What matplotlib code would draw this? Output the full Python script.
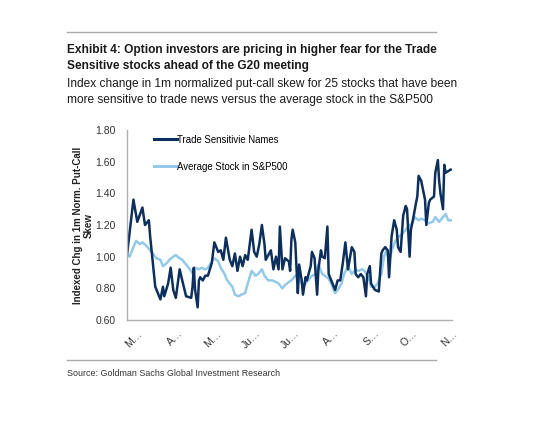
import matplotlib
matplotlib.use("Agg")
import matplotlib.pyplot as plt
from matplotlib.lines import Line2D
import numpy as np
import datetime as dt

# ---- data (day offsets from 2018-02-21) ----
trade_days = [0, 5, 8, 12, 14, 17, 18, 22, 23, 26, 28, 29, 32, 34, 36, 38, 41, 43, 46, 50,
              51, 52, 53, 55, 56, 57, 59, 61, 63, 66, 68, 71, 73, 75, 77, 80, 82, 84, 86, 88,
              90, 92, 94, 97, 99, 101, 103, 105, 107, 108, 112, 114, 116, 118, 119, 121, 123, 126, 127, 128,
              129, 131, 132, 133, 134, 136, 137, 139, 140, 143, 144, 146, 148, 149, 151, 152, 154, 156, 157, 159,
              161, 162, 164, 166, 168, 170, 172, 175, 177, 178, 180, 182, 184, 186, 187, 189, 190, 193, 196, 198,
              199, 201, 203, 204, 206, 208, 210, 211, 213, 215, 217, 218, 220, 221, 223, 225, 226, 227, 229, 230,
              232, 233, 235, 236, 239, 240, 242, 243, 244, 246, 247, 248, 250, 252]
trade_vals = [1.01, 1.36, 1.22, 1.31, 1.20, 1.23, 1.13, 0.81, 0.79, 0.73, 0.81, 0.75, 0.83, 0.93, 0.79, 0.74, 0.92, 0.85, 0.75, 0.74,
              0.81, 0.93, 0.79, 0.68, 0.85, 0.87, 0.85, 0.88, 0.88, 0.96, 1.09, 1.03, 1.04, 0.98, 1.12, 0.98, 0.94, 1.02, 0.91, 1.00,
              0.94, 1.01, 0.98, 1.17, 1.03, 1.00, 1.08, 1.20, 1.08, 0.98, 1.04, 0.92, 1.00, 0.92, 1.19, 0.92, 0.99, 0.97, 0.91, 1.11,
              1.17, 1.09, 0.92, 0.77, 0.95, 0.85, 0.76, 0.87, 0.85, 0.94, 1.03, 0.99, 0.76, 0.92, 1.04, 1.00, 0.99, 1.19, 0.89, 0.85,
              0.81, 0.79, 0.85, 0.85, 0.96, 1.09, 0.92, 1.06, 1.03, 0.89, 0.87, 0.89, 0.87, 0.75, 0.89, 0.94, 0.83, 0.79, 0.78, 1.02,
              1.04, 1.06, 1.04, 0.87, 1.13, 1.23, 1.17, 1.06, 1.03, 1.26, 1.32, 1.30, 1.00, 1.17, 1.25, 1.34, 1.38, 1.51, 1.48, 1.44,
              1.36, 1.20, 1.34, 1.36, 1.38, 1.53, 1.61, 1.48, 1.40, 1.30, 1.58, 1.53, 1.54, 1.55]

avg_days = [0, 2, 5, 7, 10, 12, 15, 18, 21, 23, 26, 28, 31, 33, 36, 38, 41, 43, 46, 49,
            52, 53, 56, 58, 61, 63, 66, 68, 71, 73, 76, 78, 82, 84, 87, 89, 92, 94, 97, 100,
            102, 105, 107, 110, 113, 116, 118, 121, 123, 126, 128, 131, 133, 136, 138, 141, 144, 147, 149, 152,
            154, 157, 159, 162, 164, 167, 169, 172, 175, 178, 180, 183, 185, 188, 190, 193, 195, 198, 200, 202,
            204, 207, 209, 212, 214, 217, 219, 222, 224, 227, 229, 232, 234, 238, 240, 243, 245, 248, 250, 252]
avg_vals = [1.01, 1.00, 1.06, 1.10, 1.08, 1.09, 1.07, 1.04, 1.01, 0.99, 0.98, 0.94, 0.96, 0.98, 1.00, 1.01, 0.99, 0.98, 0.95, 0.92,
            0.88, 0.93, 0.92, 0.93, 0.92, 0.93, 0.97, 0.99, 0.97, 0.93, 0.89, 0.85, 0.81, 0.76, 0.75, 0.76, 0.77, 0.83, 0.91, 0.88,
            0.89, 0.92, 0.88, 0.85, 0.85, 0.84, 0.83, 0.80, 0.82, 0.84, 0.85, 0.88, 0.87, 0.83, 0.82, 0.85, 0.88, 0.89, 0.95, 0.89,
            0.88, 0.86, 0.83, 0.77, 0.79, 0.83, 0.89, 0.94, 0.89, 0.92, 0.91, 0.92, 0.91, 0.87, 0.81, 0.81, 0.83, 0.89, 1.00, 1.04,
            0.98, 1.06, 1.10, 1.13, 1.14, 1.17, 1.19, 1.21, 1.25, 1.23, 1.24, 1.23, 1.21, 1.22, 1.25, 1.22, 1.24, 1.27, 1.23, 1.23]

series_names = ["Trade Sensitivie Names", "Average Stock in S&P500"]
tick_labels = ["M…", "A…", "M…", "Ju…", "Ju…", "A…", "S…", "O…", "N…"]
y_ticks = [0.60, 0.80, 1.00, 1.20, 1.40, 1.60, 1.80]
start = dt.date(2018, 2, 21)
end = dt.date(2018, 11, 1)

dark = "#0d2f5e"
light = "#93c9ea"

plt.rcParams["font.family"] = ["Liberation Sans", "DejaVu Sans"]

fig = plt.figure(figsize=(5.6, 4.28), dpi=100)
ax = fig.add_axes([127 / 560, 1 - 320 / 428, 325 / 560, 190 / 428])

tx = [start + dt.timedelta(days=d) for d in trade_days]
axx = [start + dt.timedelta(days=d) for d in avg_days]
ax.plot(axx, avg_vals, color=light, lw=1.8, solid_joinstyle="round")
ax.plot(tx, trade_vals, color=dark, lw=1.8, solid_joinstyle="round")

ax.set_ylim(0.6, 1.8)
ax.set_yticks(y_ticks)
ax.set_yticklabels([f"{v:.2f}" for v in y_ticks])
ticks = [dt.date(2018, m, 1) for m in range(3, 12)]
ax.set_xlim(start, end)
ax.set_xticks(ticks)
ax.set_xticklabels(tick_labels, rotation=45, ha="right", rotation_mode="anchor")
ax.tick_params(axis="both", length=0, labelsize=7.5, colors="#333333")
ax.tick_params(axis="y", pad=8)
ax.tick_params(axis="x", pad=6)
for s in ["top", "right"]:
    ax.spines[s].set_visible(False)
for s in ["left", "bottom"]:
    ax.spines[s].set_color("#b0b0b0")
    ax.spines[s].set_linewidth(1.0)

ax.set_ylabel("Indexed Chg in 1m Norm. Put-Call\nSkew", fontsize=7.0, fontweight="bold",
              color="#222222", labelpad=1, linespacing=1.1)

handles = [Line2D([], [], color=dark, lw=2.2), Line2D([], [], color=light, lw=2.2)]
ax.legend(handles, series_names, loc="upper left", bbox_to_anchor=(0.055, 1.02), frameon=False,
          fontsize=6.9, handlelength=2.4, handletextpad=0.1, labelspacing=1.75)

# title block
fig.add_artist(Line2D([67 / 560, 436 / 560], [1 - 32 / 428] * 2, color="#aaaaaa", lw=1.0))
title_lines = ["Exhibit 4: Option investors are pricing in higher fear for the Trade",
               "Sensitive stocks ahead of the G20 meeting"]
sub_lines = ["Index change in 1m normalized put-call skew for 25 stocks that have been",
             "more sensitive to trade news versus the average stock in the S&P500"]
for i, t in enumerate(title_lines):
    fig.text(67 / 560, 1 - (53 + 16 * i) / 428, t, fontsize=8.6, fontweight="bold",
             va="baseline", ha="left", color="#1a1a1a")
for i, t in enumerate(sub_lines):
    fig.text(67 / 560, 1 - (87 + 16 * i) / 428, t, fontsize=8.6,
             va="baseline", ha="left", color="#1a1a1a")

fig.add_artist(Line2D([67 / 560, 436 / 560], [1 - 360 / 428] * 2, color="#aaaaaa", lw=1.0))
fig.text(67 / 560, 1 - 374 / 428, "Source: Goldman Sachs Global Investment Research",
         fontsize=6.4, va="center", ha="left", color="#333333")

fig.savefig("out.png", dpi=100)
